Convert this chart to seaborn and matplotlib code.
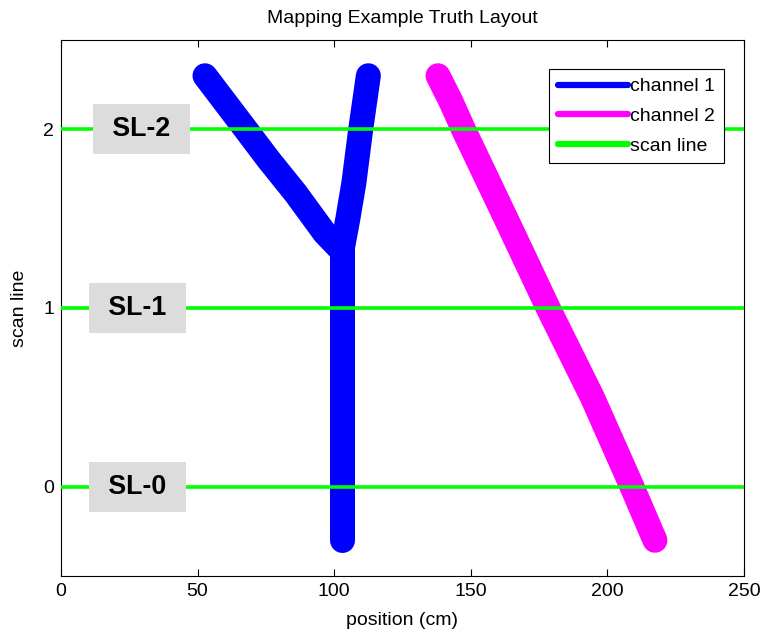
import numpy as np
import pandas as pd
import matplotlib
matplotlib.use("Agg")
import matplotlib.pyplot as plt
import seaborn as sns

# ---- data ----
ch1_trunk_x = [102.8, 102.8, 102.8]
ch1_trunk_y = [-0.30, 0.50, 1.32]
ch1_left_x = [102.8, 96.5, 86.0, 76.0, 67.6, 52.7]
ch1_left_y = [1.32, 1.42, 1.64, 1.83, 2.00, 2.30]
ch1_right_x = [102.8, 105.0, 107.2, 109.7, 112.5]
ch1_right_y = [1.32, 1.50, 1.70, 2.00, 2.30]
ch2_x = [138.0, 142.6, 147.3, 163.2, 178.3, 194.5, 209.0, 217.4]
ch2_y = [2.30, 2.16, 2.00, 1.49, 1.00, 0.50, 0.00, -0.30]
scan_levels = [0, 1, 2]
scan_x = [0, 250]
scan_labels = ["SL-0", "SL-1", "SL-2"]
label_x = [28.0, 28.0, 29.5]
xticks = [0, 50, 100, 150, 200, 250]
yticks = [0, 1, 2]

sns.set_style("ticks")
plt.rcParams["font.family"] = ["Liberation Sans", "DejaVu Sans"]
plt.rcParams.update({
    "xtick.direction": "in", "ytick.direction": "in",
    "xtick.top": True, "ytick.right": True,
    "xtick.color": "black", "ytick.color": "black",
    "axes.edgecolor": "black", "axes.linewidth": 0.8,
    "text.color": "black", "axes.labelcolor": "black",
})

fig = plt.figure(figsize=(7.64, 6.34), dpi=100)
ax = fig.add_axes([61/764, 1-576/634, 683/764, 536/634])

blue, magenta, green = "#0000ff", "#ff00ff", "#00ff00"
lw = 18
fs = 14

def seg(xs, ys, color, label=None, lw=lw, z=2):
    df = pd.DataFrame({"x": xs, "y": ys})
    kw = dict(label=label) if label else {}
    sns.lineplot(data=df, x="x", y="y", sort=False, estimator=None, color=color,
                 linewidth=lw, solid_capstyle="round", solid_joinstyle="round",
                 ax=ax, zorder=z, **kw)

seg(ch1_trunk_x, ch1_trunk_y, blue, "channel 1")
seg(ch1_left_x, ch1_left_y, blue)
seg(ch1_right_x, ch1_right_y, blue)
seg(ch2_x, ch2_y, magenta, "channel 2")
for i, lv in enumerate(scan_levels):
    seg(scan_x, [lv, lv], green, "scan line" if i == 0 else None, lw=2.6, z=3)

for lv, lab, lx in zip(scan_levels, scan_labels, label_x):
    ax.text(lx, lv, " " + lab + " ", ha="center", va="center", fontsize=19.3,
            fontweight="bold", zorder=5,
            bbox=dict(boxstyle="square,pad=0.45", fc="#dcdcdc", ec="none"))

ax.set_xlim(0, 250)
ax.set_ylim(-0.5, 2.5)
ax.set_xticks(xticks)
ax.set_yticks(yticks)
ax.tick_params(labelsize=fs, length=5, width=0.8, pad=5)
ax.set_xlabel("position (cm)", fontsize=fs, labelpad=9)
ax.set_ylabel("scan line", fontsize=fs, labelpad=11)
ax.set_title("Mapping Example Truth Layout", fontsize=fs, pad=12)

handles, labels = ax.get_legend_handles_labels()
leg = ax.legend(handles, labels, loc="upper right", bbox_to_anchor=(0.9707, 0.9459),
                borderaxespad=0, fontsize=fs, frameon=True, fancybox=False,
                edgecolor="black", framealpha=1, handlelength=3.6, handletextpad=0.12,
                labelspacing=0.62, borderpad=0.45)
leg.get_frame().set_linewidth(0.8)
leg.set_zorder(10)
for h in leg.get_lines():
    h.set_linewidth(4.5)

fig.savefig("out.png", dpi=100)
